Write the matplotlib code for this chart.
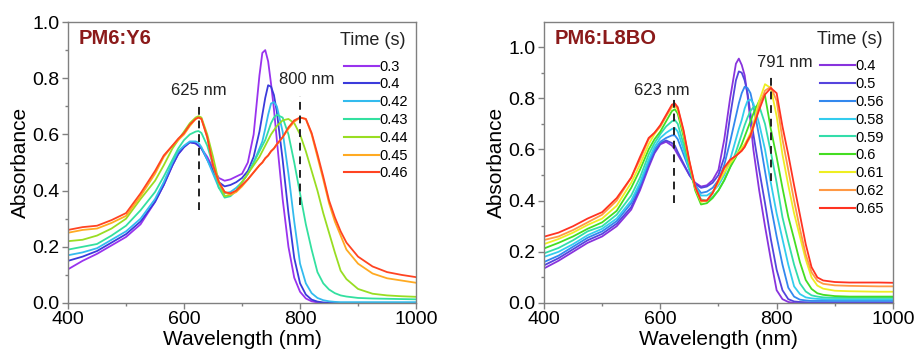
import matplotlib
matplotlib.use("Agg")
import matplotlib.pyplot as plt
from matplotlib.ticker import MultipleLocator

plt.rcParams['font.family'] = ['Liberation Sans', 'DejaVu Sans']

# shared wavelength grid (nm)
wavelength = [400, 425, 450, 475, 500, 525, 550, 565, 580, 590, 600, 610, 620, 625, 630,
              640, 650, 660, 670, 680, 690, 700, 710, 720, 730, 735, 740, 745, 750, 755,
              760, 770, 780, 790, 800, 810, 820, 830, 840, 850, 860, 870, 880, 900, 925,
              950, 975, 1000]

# ---- PM6:Y6 ----
y6_times = ['0.3', '0.4', '0.42', '0.43', '0.44', '0.45', '0.46']
y6_colors = ['#9933ee', '#3b3bdb', '#33bbee', '#33e0a0', '#99dd22', '#ffaa22', '#ff4422']
y6_030 = [.12, .15, .175, .205, .235, .28, .36, .42, .49, .53, .555, .572, .568, .56, .55,
          .52, .48, .445, .435, .44, .45, .46, .50, .60, .81, .89, .90, .86, .78, .69,
          .58, .37, .20, .09, .04, .016, .006, .002, 0, 0, 0, 0, 0, 0, 0,
          0, 0, 0]
y6_040 = [.15, .165, .185, .215, .245, .29, .36, .42, .49, .53, .555, .572, .568, .56, .55,
          .51, .47, .43, .415, .42, .43, .445, .47, .52, .61, .67, .73, .775, .77, .74,
          .68, .51, .32, .16, .07, .03, .012, .005, .002, .001, 0, 0, 0, 0, 0,
          0, 0, 0]
y6_042 = [.17, .18, .195, .225, .255, .30, .37, .43, .50, .54, .56, .575, .575, .57, .555,
          .51, .46, .41, .39, .395, .41, .43, .46, .50, .55, .575, .62, .67, .71, .715,
          .70, .61, .46, .29, .14, .07, .035, .018, .01, .006, .004, .003, .003, .003, .003,
          .003, .003, .003]
y6_043 = [.19, .20, .21, .24, .275, .33, .395, .45, .51, .55, .58, .60, .61, .612, .605,
          .56, .49, .41, .375, .38, .40, .43, .46, .50, .54, .56, .58, .61, .64, .66,
          .67, .66, .60, .50, .39, .28, .19, .11, .07, .048, .035, .027, .023, .018, .016,
          .015, .014, .013]
y6_044 = [.22, .225, .24, .265, .30, .37, .435, .49, .55, .58, .61, .64, .66, .665, .66,
          .60, .52, .43, .38, .385, .40, .43, .46, .49, .52, .54, .56, .58, .60, .615,
          .63, .65, .655, .64, .60, .54, .47, .40, .32, .25, .18, .115, .085, .05, .033,
          .027, .024, .022]
y6_045 = [.25, .26, .265, .285, .31, .38, .46, .52, .56, .58, .60, .63, .655, .66, .655,
          .59, .49, .43, .395, .385, .395, .415, .44, .465, .49, .50, .515, .525, .54, .55,
          .565, .59, .62, .645, .66, .655, .60, .52, .44, .355, .29, .24, .19, .14, .105,
          .088, .08, .072]
y6_046 = [.26, .27, .275, .295, .32, .39, .47, .525, .56, .585, .605, .635, .655, .66, .655,
          .59, .49, .43, .395, .39, .40, .42, .44, .465, .49, .50, .515, .525, .54, .55,
          .565, .59, .625, .65, .66, .655, .605, .53, .45, .365, .305, .255, .215, .165, .13,
          .11, .10, .092]
y6_series = [y6_030, y6_040, y6_042, y6_043, y6_044, y6_045, y6_046]

# ---- PM6:L8BO ----
l8_times = ['0.4', '0.5', '0.56', '0.58', '0.59', '0.6', '0.61', '0.62', '0.65']
l8_colors = ['#8833dd', '#5544dd', '#3388ee', '#33ccee', '#33ddaa', '#44dd22', '#eeee22',
             '#ff9944', '#ff3322']
l8_040 = [.135, .165, .20, .235, .26, .30, .365, .44, .53, .585, .62, .63, .615, .60, .58,
          .54, .50, .47, .455, .46, .48, .52, .64, .80, .935, .955, .93, .89, .81, .71,
          .60, .44, .30, .17, .05, .015, .004, 0, 0, 0, 0, 0, 0, 0, 0,
          0, 0, 0]
l8_050 = [.147, .175, .21, .245, .27, .31, .375, .45, .54, .59, .625, .635, .625, .615, .59,
          .545, .50, .465, .45, .455, .47, .50, .57, .73, .87, .905, .90, .87, .82, .74,
          .66, .52, .39, .25, .13, .05, .015, .006, .004, .003, .002, .002, .002, .002, .002,
          .002, .002, .002]
l8_056 = [.16, .185, .22, .255, .28, .32, .39, .46, .55, .60, .63, .645, .655, .655, .64,
          .58, .52, .46, .43, .435, .45, .48, .54, .63, .73, .78, .82, .845, .84, .82,
          .77, .65, .515, .38, .26, .15, .06, .025, .013, .01, .008, .008, .008, .008, .008,
          .008, .008, .008]
l8_058 = [.18, .20, .23, .265, .29, .33, .40, .47, .56, .61, .645, .665, .68, .684, .67,
          .60, .52, .455, .42, .42, .435, .46, .50, .56, .64, .68, .715, .76, .79, .795,
          .78, .70, .60, .47, .35, .25, .15, .065, .035, .022, .018, .016, .015, .014, .014,
          .014, .014, .014]
l8_059 = [.194, .215, .245, .28, .30, .345, .42, .49, .58, .625, .66, .69, .71, .715, .70,
          .62, .53, .45, .405, .40, .415, .44, .48, .53, .59, .625, .66, .695, .725, .75,
          .765, .77, .70, .59, .47, .335, .24, .15, .077, .045, .03, .025, .022, .02, .02,
          .02, .02, .02]
l8_060 = [.213, .235, .26, .29, .315, .36, .45, .52, .60, .64, .67, .71, .75, .757, .74,
          .65, .54, .44, .385, .39, .41, .44, .48, .53, .57, .595, .62, .65, .68, .71,
          .74, .79, .81, .68, .57, .45, .337, .25, .16, .09, .055, .038, .032, .027, .025,
          .025, .025, .025]
l8_061 = [.23, .25, .275, .305, .33, .38, .47, .54, .62, .66, .69, .73, .765, .77, .755,
          .665, .55, .45, .395, .40, .43, .47, .51, .545, .575, .59, .605, .62, .64, .665,
          .70, .79, .855, .84, .73, .58, .46, .35, .26, .17, .10, .068, .056, .048, .046,
          .045, .044, .044]
l8_062 = [.246, .26, .285, .315, .345, .40, .49, .56, .64, .665, .69, .73, .77, .775, .76,
          .67, .55, .45, .40, .40, .43, .48, .525, .555, .575, .585, .595, .61, .63, .65,
          .685, .77, .83, .845, .79, .64, .52, .40, .29, .19, .12, .087, .075, .069, .067,
          .066, .065, .065]
l8_065 = [.259, .275, .30, .33, .355, .41, .49, .57, .645, .665, .695, .735, .775, .78, .765,
          .675, .555, .455, .40, .40, .43, .48, .53, .56, .575, .585, .595, .61, .635, .655,
          .69, .755, .815, .84, .82, .69, .58, .46, .345, .23, .14, .10, .088, .082, .08,
          .08, .08, .079]
l8_series = [l8_040, l8_050, l8_056, l8_058, l8_059, l8_060, l8_061, l8_062, l8_065]

# peak markers: (wavelength, dash bottom, dash top, label x, label y)
y6_marks = [(625, 0.33, 0.71, 625, 0.755), (800, 0.35, 0.735, 811, 0.795)]
l8_marks = [(623, 0.39, 0.805, 602, 0.83), (791, 0.475, 0.885, 814, 0.94)]

fig = plt.figure(figsize=(9.17, 3.59), dpi=100)
ax1 = fig.add_axes([0.0742, 0.156, 0.3795, 0.7827])
ax2 = fig.add_axes([0.5932, 0.156, 0.3806, 0.7827])


def draw_panel(ax, series, times, colors, marks, name, ymax, leg_x, leg_top, title_y):
    for vals, t, c in zip(series, times, colors):
        ax.plot(wavelength, vals, color=c, lw=1.3, label=t)
    for x, y0, y1, tx, ty in marks:
        ax.plot([x, x], [y0, y1], color='#222222', lw=1.4, ls=(0, (4, 3)))
        ax.text(tx, ty, f'{x} nm', ha='center', va='center', fontsize=12, color='#222222')
    ax.text(0.03, 0.94, name, transform=ax.transAxes, fontsize=14.5, fontweight='bold',
            color='#8b1a1a', va='center', ha='left')
    ax.set_xlim(400, 1000)
    ax.set_ylim(0, ymax)
    ax.xaxis.set_major_locator(MultipleLocator(200))
    ax.xaxis.set_minor_locator(MultipleLocator(100))
    ax.yaxis.set_major_locator(MultipleLocator(0.2))
    ax.yaxis.set_minor_locator(MultipleLocator(0.1))
    ax.yaxis.set_major_formatter(plt.FormatStrFormatter('%.1f'))
    ax.tick_params(which='major', direction='out', length=4, width=1, color='#808080',
                   labelsize=14, pad=2)
    ax.tick_params(which='minor', direction='out', length=2.5, width=1, color='#808080')
    for s in ax.spines.values():
        s.set_color('#808080')
        s.set_linewidth(1.0)
    ax.set_xlabel('Wavelength (nm)', fontsize=15, labelpad=1)
    ax.set_ylabel('Absorbance', fontsize=15, labelpad=2)
    ax.text(0.877, title_y, 'Time (s)', transform=ax.transAxes, fontsize=13,
            ha='center', va='center', color='#222222')
    leg = ax.legend(loc='upper left', bbox_to_anchor=(leg_x, leg_top), frameon=False,
                    fontsize=10.5, handlelength=2.4, handletextpad=0.05, labelspacing=0.26,
                    borderpad=0, borderaxespad=0)
    for h in leg.get_lines():
        h.set_linewidth(1.5)


draw_panel(ax1, y6_series, y6_times, y6_colors, y6_marks, 'PM6:Y6', 1.0, 0.792, 0.866, 0.933)
draw_panel(ax2, l8_series, l8_times, l8_colors, l8_marks, 'PM6:L8BO', 1.098, 0.79, 0.867, 0.936)

fig.savefig('out.png', dpi=100)
